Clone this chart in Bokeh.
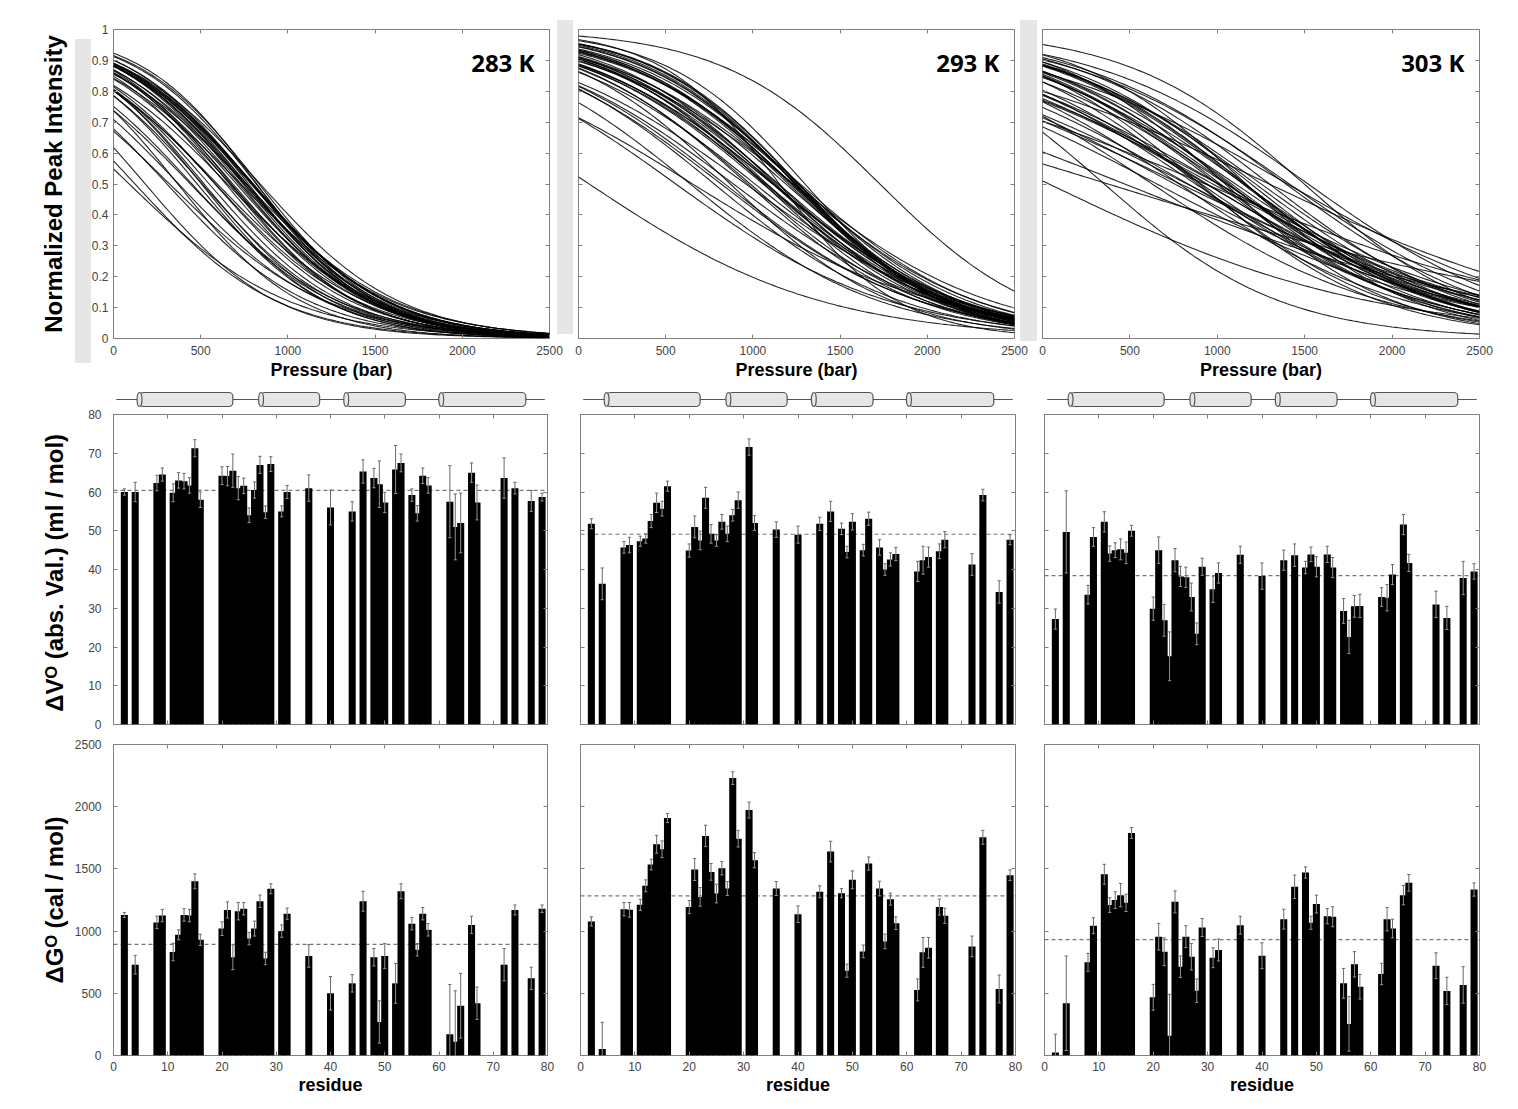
import numpy as np
from bokeh.plotting import figure
from bokeh.layouts import column, row
from bokeh.models import (Range1d, FixedTicker, LinearAxis, Label, Span,
                          NumeralTickFormatter, InlineStyleSheet)
from bokeh.embed import file_html
from bokeh.resources import INLINE

# ---------------- data ----------------
TEMPS = [283, 293, 303]
TEMP_LABELS = ["283 K", "293 K", "303 K"]

RESIDUES = [2, 4, 8, 9, 11, 12, 13, 14, 15, 16, 20, 21, 22, 23, 24, 25, 26, 27, 28, 29,
            31, 32, 36, 40, 44, 46, 48, 49, 50, 52, 53, 55, 56, 57, 58, 62, 63, 64, 66, 67,
            72, 74, 77, 79]

# |dV0| (ml/mol)
DV_283 = [60.0, 60.0, 62.3, 64.5, 59.8, 63.0, 62.8, 61.7, 71.3, 58.0, 64.2, 64.1, 65.5, 61.0,
          61.6, 54.0, 60.5, 67.0, 54.8, 67.2, 55.0, 60.0, 61.0, 56.0, 55.0, 65.3, 63.6, 62.0,
          57.3, 65.8, 67.5, 59.2, 54.5, 64.2, 61.7, 57.5, 51.0, 52.0, 65.0, 57.3, 63.6, 61.0,
          57.7, 58.7]
DV_283_ERR = [0.8, 2.5, 2.0, 1.7, 2.3, 2.0, 2.0, 2.0, 2.2, 2.0, 2.3, 2.5, 4.3, 3.0, 2.0, 1.9,
              2.1, 2.2, 1.6, 1.9, 1.4, 1.7, 3.4, 4.5, 2.5, 3.0, 2.5, 6.0, 2.6, 6.2, 2.3, 1.6,
              2.0, 2.0, 2.0, 9.3, 8.5, 7.7, 2.5, 4.5, 5.2, 1.5, 2.7, 1.0]
DV_293 = [51.8, 36.3, 45.7, 46.3, 47.3, 48.0, 52.5, 57.2, 55.7, 61.5, 44.9, 51.0, 47.5, 58.5,
          49.2, 47.5, 52.3, 49.2, 54.0, 57.9, 71.6, 52.0, 50.3, 49.0, 51.8, 55.0, 50.5, 44.5,
          52.3, 45.0, 53.1, 45.7, 40.0, 42.6, 44.0, 39.5, 42.4, 43.2, 44.7, 47.7, 41.3, 59.2,
          34.2, 47.7]
DV_293_ERR = [1.3, 4.1, 1.5, 2.0, 1.3, 1.2, 1.7, 2.5, 1.9, 1.3, 1.7, 2.8, 2.4, 2.7, 2.4, 1.5,
              1.9, 2.0, 1.5, 2.1, 2.1, 1.9, 2.0, 2.2, 1.7, 2.6, 1.5, 1.5, 2.1, 1.5, 1.7, 2.0,
              1.5, 1.7, 1.7, 2.6, 3.6, 2.6, 1.9, 2.1, 2.8, 1.5, 2.9, 1.3]
DV_303 = [27.2, 49.7, 33.5, 48.4, 52.3, 44.1, 45.0, 45.2, 44.3, 50.0, 29.9, 45.0, 26.9, 17.6,
          42.4, 38.2, 38.0, 32.9, 23.4, 40.7, 34.9, 39.1, 43.8, 38.3, 42.4, 43.7, 40.5, 43.9,
          40.7, 43.9, 40.5, 29.3, 22.6, 30.5, 30.6, 32.9, 32.7, 38.7, 51.6, 41.7, 31.0, 27.5,
          37.8, 39.5]
DV_303_ERR = [2.6, 10.6, 2.4, 2.4, 2.6, 2.0, 1.9, 2.7, 2.8, 1.4, 3.0, 3.4, 4.1, 6.3, 3.0, 2.6,
              2.6, 3.6, 2.8, 2.2, 3.4, 2.6, 2.2, 3.4, 2.6, 2.9, 1.6, 1.9, 2.6, 2.1, 2.6, 3.2,
              4.3, 2.8, 3.0, 2.4, 3.4, 2.6, 2.6, 2.2, 3.4, 3.0, 4.3, 2.0]

# dG0 (cal/mol)
DG_283 = [1130, 730, 1070, 1125, 832, 970, 1130, 1125, 1400, 930, 1020, 1170, 790, 1160, 1180,
          940, 1020, 1240, 780, 1340, 1000, 1140, 800, 500, 580, 1240, 790, 270, 800, 580, 1320,
          1060, 850, 1140, 1010, 170, 110, 400, 1050, 420, 730, 1170, 620, 1180]
DG_283_ERR = [20, 75, 50, 50, 70, 40, 50, 50, 60, 45, 55, 65, 100, 70, 50, 50, 60, 50, 50, 40,
              50, 45, 90, 135, 70, 80, 70, 170, 100, 160, 60, 50, 50, 50, 50, 400, 410, 260,
              70, 130, 130, 40, 90, 30]
DG_293 = [1078, 53, 1176, 1171, 1211, 1364, 1535, 1698, 1658, 1909, 1193, 1495, 1275, 1765,
          1476, 1302, 1505, 1342, 2230, 1743, 1973, 1570, 1342, 1136, 1316, 1639, 1305, 682,
          1412, 837, 1543, 1342, 917, 1257, 1064, 527, 829, 866, 1193, 1123, 877, 1754, 535,
          1449]
DG_293_ERR = [37, 214, 53, 59, 45, 48, 43, 72, 67, 37, 53, 88, 75, 86, 67, 75, 53, 56, 51, 67,
              64, 61, 56, 67, 48, 83, 37, 53, 72, 51, 53, 59, 59, 48, 51, 88, 120, 83, 64, 61,
              83, 56, 112, 43]
DG_303 = [24, 420, 749, 1043, 1457, 1209, 1249, 1289, 1227, 1789, 468, 955, 834, 158, 1235,
          714, 955, 794, 521, 1029, 786, 848, 1048, 802, 1096, 1356, 1471, 1067, 1217, 1120,
          1115, 580, 254, 733, 553, 655, 1096, 1021, 1289, 1388, 722, 519, 567, 1334]
DG_303_ERR = [147, 380, 72, 64, 80, 59, 67, 94, 70, 43, 104, 107, 112, 334, 88, 86, 88, 107,
              94, 72, 80, 88, 72, 104, 80, 94, 45, 53, 72, 61, 80, 120, 219, 102, 99, 86, 94,
              75, 78, 67, 104, 110, 147, 53]

DV_MEAN = [60.4, 49.1, 38.4]
DG_MEAN = [893, 1283, 931]

# secondary structure (helices) along the sequence
BACKBONE = [0.5, 79.5]
HELIX_START = [4.8, 27.2, 42.9, 60.4]
HELIX_END = [22.0, 38.0, 53.8, 76.0]

DV = [DV_283, DV_293, DV_303]
DV_ERR = [DV_283_ERR, DV_293_ERR, DV_303_ERR]
DG = [DG_283, DG_293, DG_303]
DG_ERR = [DG_283_ERR, DG_293_ERR, DG_303_ERR]

P_TICKS = [0, 500, 1000, 1500, 2000, 2500]
I_TICKS = [0, 0.1, 0.2, 0.3, 0.4, 0.5, 0.6, 0.7, 0.8, 0.9, 1]
RES_TICKS = [0, 10, 20, 30, 40, 50, 60, 70, 80]
DV_TICKS = [0, 10, 20, 30, 40, 50, 60, 70, 80]
DG_TICKS = [0, 500, 1000, 1500, 2000, 2500]

# two-state pressure denaturation model (fitted curves)
R_CAL = 1.987
BAR_ML_TO_CAL = 0.1 / 4.184
PRESSURE = np.linspace(0, 2500, 126)


def two_state(dg, dv, T):
    return 1.0 / (1.0 + np.exp(-(dg - PRESSURE * dv * BAR_ML_TO_CAL) / (R_CAL * T)))


# ---------------- styling helpers ----------------
FONT = "Liberation Sans"
GRAY = "#808080"


def style_axis(ax, show_labels, standoff=0):
    ax.axis_line_color = None
    ax.major_tick_in = 4
    ax.major_tick_out = 0
    ax.major_tick_line_color = GRAY
    ax.minor_tick_line_color = None
    ax.major_label_text_font = FONT
    if show_labels:
        ax.major_label_text_color = "#444444"
        ax.major_label_text_font_size = "12px"
        ax.major_label_standoff = standoff
    else:
        ax.major_label_text_color = None
        ax.major_label_text_font_size = "1px"
        ax.major_label_standoff = 0


def style_title(ax, text, size, standoff):
    ax.axis_label = text
    ax.axis_label_text_font = FONT
    ax.axis_label_text_font_style = "bold"
    ax.axis_label_text_font_size = size
    ax.axis_label_text_color = "#000000"
    ax.axis_label_standoff = standoff


def make_fig(width, height, bl, br, bt, bb, xr, yr, xticks, yticks,
             show_x, show_y, x_standoff=7, y_standoff=12, transparent=False):
    p = figure(width=width, height=height, x_range=Range1d(*xr), y_range=Range1d(*yr),
               output_backend="svg", toolbar_location=None,
               min_border_left=bl, min_border_right=br,
               min_border_top=bt, min_border_bottom=bb)
    if transparent:
        p.border_fill_color = None
    p.grid.visible = False
    p.outline_line_color = GRAY
    p.outline_line_width = 1
    xb = p.below[0]
    yl = p.left[0]
    xb.ticker = FixedTicker(ticks=xticks)
    yl.ticker = FixedTicker(ticks=yticks)
    style_axis(xb, show_x, x_standoff)
    style_axis(yl, show_y, y_standoff)
    top = LinearAxis(ticker=FixedTicker(ticks=xticks))
    style_axis(top, False)
    p.add_layout(top, "above")
    right = LinearAxis(ticker=FixedTicker(ticks=yticks))
    style_axis(right, False)
    p.add_layout(right, "right")
    return p, xb, yl


# ---------------- top row: pressure curves ----------------
TOP_W = [563, 465, 467]
TOP_BL = [113, 15, 14]
TOP_BR = [14, 14, 16]
TOP_H = 384

top_figs = []
for i, T in enumerate(TEMPS):
    p, xb, yl = make_fig(TOP_W[i], TOP_H, TOP_BL[i], TOP_BR[i], 29, 46, (0, 2500), (0, 1),
                         P_TICKS, I_TICKS, True, i == 0, x_standoff=7, y_standoff=5,
                         transparent=True)
    if i == 0:
        yl.formatter = NumeralTickFormatter(format="0.[0]")
        style_title(yl, "Normalized Peak Intensity", "24px", 22)
    style_title(xb, "Pressure (bar)", "18px", 2)
    xs = [PRESSURE for _ in RESIDUES]
    ys = [two_state(g, v, T) for g, v in zip(DG[i], DV[i])]
    p.multi_line(xs=xs, ys=ys, line_color="black", line_width=1.1, line_alpha=0.85)
    p.add_layout(Label(x=2414, y=0.892, text=TEMP_LABELS[i], text_font="Open Sans",
                       text_font_style="bold", text_font_size="24px", text_align="right",
                       text_baseline="alphabetic", text_color="black"))
    top_figs.append(p)

# light grey tabs behind the top row (page decoration of the original figure)
STRIP_CSS = """
:host {
  background-color: #ffffff;
  background-image: linear-gradient(#e6e6e6, #e6e6e6), linear-gradient(#e6e6e6, #e6e6e6),
                    linear-gradient(#e6e6e6, #e6e6e6);
  background-size: 16px 324px, 16px 314px, 17px 321px;
  background-position: 75px 39px, 557px 20px, 1020px 20px;
  background-repeat: no-repeat;
}
"""
top_row = row(*top_figs, stylesheets=[InlineStyleSheet(css=STRIP_CSS)])

# ---------------- lower rows ----------------
LOW_W = [556, 470, 468]
LOW_BL = [113, 24, 18]
LOW_BR = [9, 11, 15]


def helix_fig(i):
    p = figure(width=LOW_W[i], height=25, x_range=Range1d(0, 80), y_range=Range1d(-10, 15),
               x_axis_type=None, y_axis_type=None, output_backend="svg",
               toolbar_location=None, min_border_left=LOW_BL[i], min_border_right=LOW_BR[i],
               min_border_top=0, min_border_bottom=0)
    p.outline_line_color = None
    p.grid.visible = False
    p.segment(x0=[BACKBONE[0]], y0=[0], x1=[BACKBONE[1]], y1=[0],
              line_color="#555555", line_width=1.2)
    p.quad(left=HELIX_START, right=HELIX_END, bottom=-7, top=7, fill_color="#e6e6e6",
           line_color="#555555", line_width=1.2, border_radius=4)
    p.ellipse(x=HELIX_START, y=0, width=0.9, height=14, fill_color="#e6e6e6",
              line_color="#555555", line_width=1.2)
    return p


def bars(p, vals, errs, cap):
    x = np.array(RESIDUES, dtype=float)
    v = np.array(vals, dtype=float)
    e = np.array(errs, dtype=float)
    p.vbar(x=x, top=v, bottom=0, width=1.3, fill_color="black", line_color=None)
    p.segment(x0=x, y0=v, x1=x, y1=v - e, line_color="#a0a0a0", line_width=0.9)
    p.segment(x0=x - cap, y0=v - e, x1=x + cap, y1=v - e, line_color="#a0a0a0", line_width=0.9)
    p.segment(x0=x, y0=v, x1=x, y1=v + e, line_color="#6a6a6a", line_width=1)
    p.segment(x0=x - cap, y0=v + e, x1=x + cap, y1=v + e, line_color="#6a6a6a", line_width=1)


helix_figs = [helix_fig(i) for i in range(3)]

mid_figs = []
for i in range(3):
    p, xb, yl = make_fig(LOW_W[i], 327, LOW_BL[i], LOW_BR[i], 5, 12, (0, 80), (0, 80),
                         RES_TICKS, DV_TICKS, False, i == 0, y_standoff=12)
    if i == 0:
        style_title(yl, "ΔVᴼ (abs. Val.)  (ml / mol)", "24px", 17)
    p.add_layout(Span(location=DV_MEAN[i], dimension="width", line_color="#777777",
                      line_dash="4 3", line_width=1.2, level="underlay"))
    bars(p, DV[i], DV_ERR[i], 0.3)
    mid_figs.append(p)

bot_figs = []
for i in range(3):
    p, xb, yl = make_fig(LOW_W[i], 361, LOW_BL[i], LOW_BR[i], 8, 42, (0, 80), (0, 2500),
                         RES_TICKS, DG_TICKS, True, i == 0, x_standoff=6, y_standoff=12)
    if i == 0:
        style_title(yl, "ΔGᴼ (cal / mol)", "24px", 4)
    style_title(xb, "residue", "18px", 1)
    p.add_layout(Span(location=DG_MEAN[i], dimension="width", line_color="#777777",
                      line_dash="4 3", line_width=1.2, level="underlay"))
    bars(p, DG[i], DG_ERR[i], 0.3)
    bot_figs.append(p)

layout = column(top_row, row(*helix_figs), row(*mid_figs), row(*bot_figs))

with open("out.html", "w") as f:
    f.write(file_html(layout, INLINE))
